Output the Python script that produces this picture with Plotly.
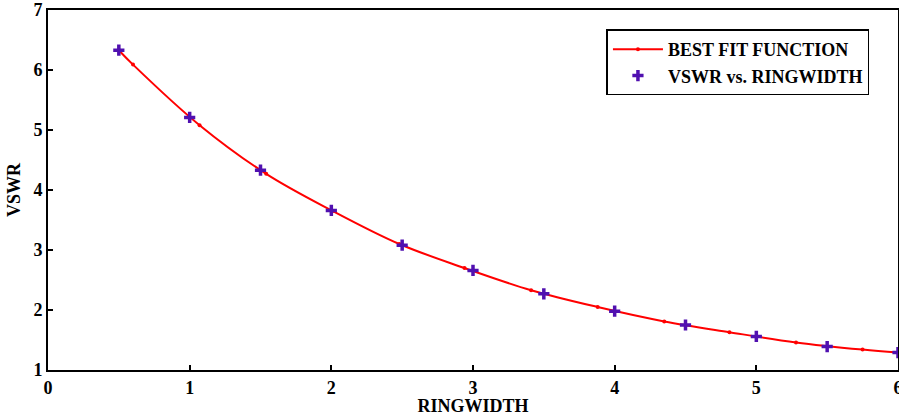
import plotly.graph_objects as go

ringwidth = [0.5, 1.0, 1.5, 2.0, 2.5, 3.0, 3.5, 4.0, 4.5, 5.0, 5.5, 6.0]
vswr = [6.33, 5.21, 4.33, 3.66, 3.08, 2.66, 2.27, 1.98, 1.75, 1.56, 1.39, 1.29]

fit_x = [0.5, 0.6, 1.07, 1.54, 2.01, 2.48, 2.94, 3.41, 3.88, 4.35, 4.81, 5.28, 5.75, 6.0]
fit_y = [6.33, 6.09, 5.08, 4.27, 3.65, 3.10, 2.70, 2.33, 2.05, 1.81, 1.63, 1.46, 1.34, 1.29]

FONT = "Liberation Serif"

fig = go.Figure()
fig.add_trace(go.Scatter(
    x=fit_x, y=fit_y, mode="lines+markers", name="BEST FIT FUNCTION",
    line=dict(color="#ff0000", width=2, shape="spline"),
    marker=dict(color="#ff0000", size=4, symbol="circle"),
))
fig.add_trace(go.Scatter(
    x=ringwidth, y=vswr, mode="markers", name="VSWR vs. RINGWIDTH",
    marker=dict(color="#5010b0", size=8, symbol="cross-thin",
                line=dict(color="#5010b0", width=3.5)),
    cliponaxis=False,
))

axis_common = dict(
    showgrid=False, zeroline=False, showline=True, linecolor="black", linewidth=2,
    mirror=True, ticks="inside", ticklen=5, tickwidth=2, tickcolor="black",
    ticklabeloverflow="allow", automargin=False,
    tickfont=dict(family=FONT, size=18, color="black", weight="bold"),
)
fig.update_xaxes(range=[0, 6], dtick=1, tick0=0,
                 title=dict(text="RINGWIDTH", standoff=0,
                            font=dict(family=FONT, size=18, color="black", weight="bold")),
                 **axis_common)
fig.update_yaxes(range=[1, 7], dtick=1, tick0=1,
                 title=dict(text="VSWR", standoff=8,
                            font=dict(family=FONT, size=18, color="black", weight="bold")),
                 **axis_common)

fig.update_layout(
    width=899, height=416,
    margin=dict(l=48, r=1, t=10, b=46, autoexpand=False),
    plot_bgcolor="white", paper_bgcolor="white",
    showlegend=True,
    legend=dict(x=0.657, y=0.946, xanchor="left", yanchor="top",
                bgcolor="white", bordercolor="black", borderwidth=1.5,
                font=dict(family=FONT, size=18, color="black", weight="bold"),
                tracegroupgap=0, itemwidth=50),
)

fig.write_html("out.html")
